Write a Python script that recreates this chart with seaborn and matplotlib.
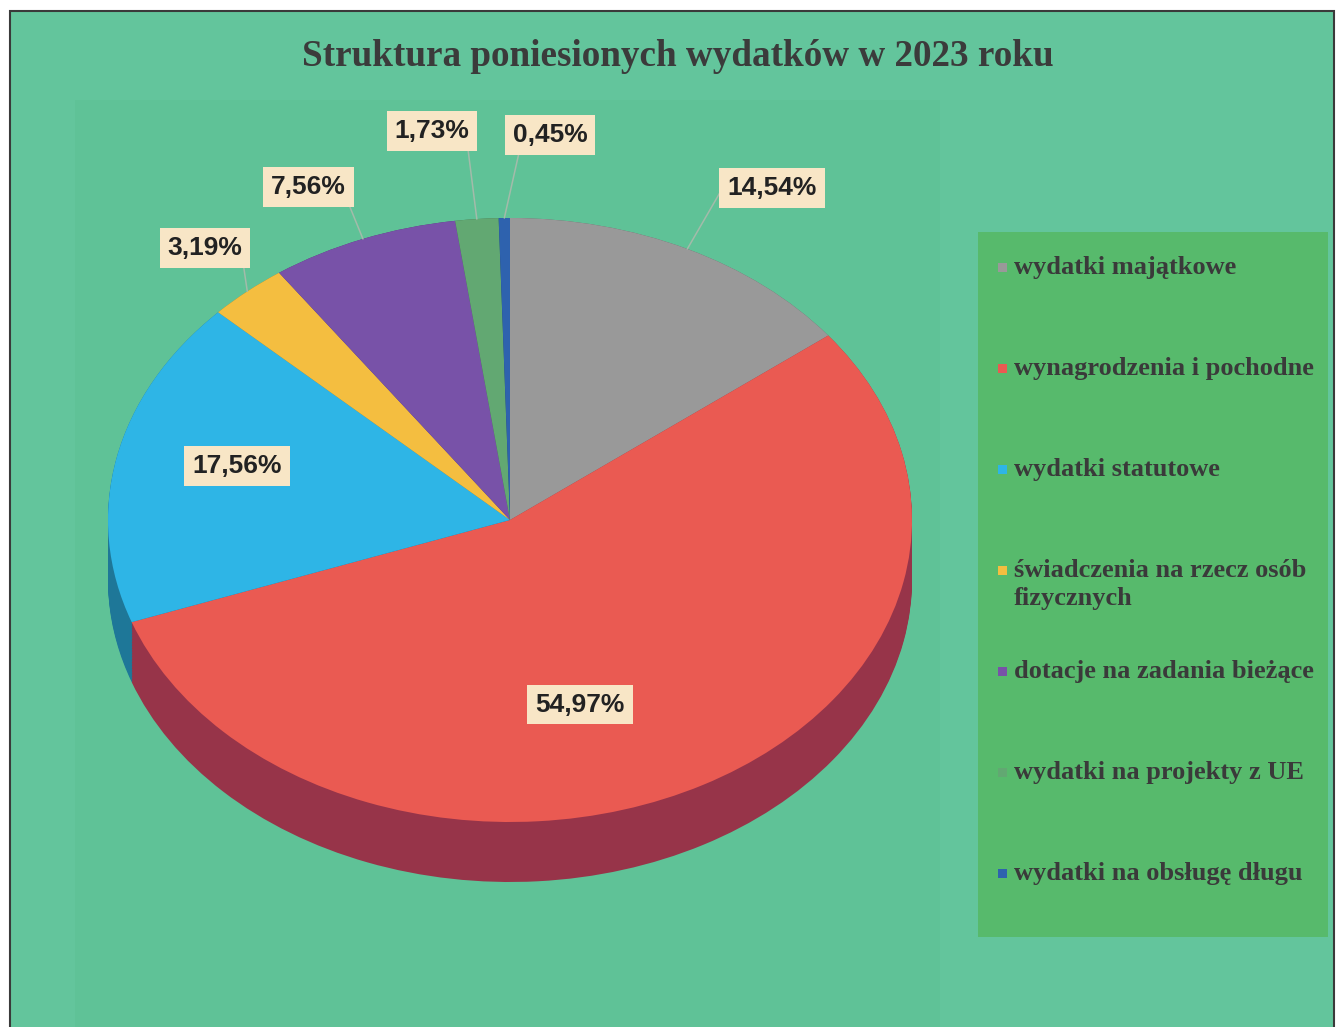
import numpy as np
import matplotlib
matplotlib.use("Agg")
import matplotlib.pyplot as plt
from matplotlib.patches import Rectangle
import seaborn as sns

# === dane ===
categories = [
    "wydatki majątkowe",
    "wynagrodzenia i pochodne",
    "wydatki statutowe",
    "świadczenia na rzecz osób\nfizycznych",
    "dotacje na zadania bieżące",
    "wydatki na projekty z UE",
    "wydatki na obsługę długu",
]
shares = [14.54, 54.97, 17.56, 3.19, 7.56, 1.73, 0.45]
colors = ["#999999", "#EA5A52", "#2EB5E6", "#F4BE40", "#7852A8", "#62A872", "#2E62AE"]

# położenie etykiet (współrzędne osi koła) i punkt startu linii odniesienia (None = brak linii)
label_pos = [(0.652, 1.099), (0.174, -0.611), (-0.679, 0.179), (-0.759, 0.901),
             (-0.502, 1.103), (-0.194, 1.288), (0.100, 1.275)]
line_from = [(0.0, 0.85), None, None, (1.0, 0.1), (1.0, 0.1), (0.97, 0.0), (0.1, 0.0)]

W, H = 1342, 1027
sns.set_theme(style="white")
plt.rcParams["font.family"] = ["Liberation Sans", "DejaVu Sans"]

fig = plt.figure(figsize=(W / 100, H / 100), dpi=100, facecolor="white")


def fx(px):
    return px / W


def fy(py):
    return 1 - py / H


def rect(x0, y0, x1, y1, z=-5, **kw):
    fig.patches.append(Rectangle((fx(x0), fy(y1)), fx(x1) - fx(x0), fy(y0) - fy(y1),
                                 transform=fig.transFigure, figure=fig, zorder=z, **kw))


# tło wykresu
rect(10, 11, 1334, 1030, facecolor="#63C59C", edgecolor="#3a3a3a", lw=1.5, z=-10)
rect(75, 100, 940, 1027, facecolor="#5FC297", edgecolor="none", z=-9)
rect(978, 232, 1328, 937, facecolor="#57BA6C", edgecolor="none", z=-9)

fig.text(fx(678), fy(56), "Struktura poniesionych wydatków w 2023 roku",
         ha="center", va="center", fontsize=26.7, fontweight="bold",
         family=["Liberation Serif", "DejaVu Serif"], color="#3B3B3B")

# === koło (elipsa z bokiem 3D) ===
cx, cy, rx, ry, depth = 510, 520, 402, 302, 60
ax = fig.add_axes([fx(cx - rx), fy(cy + ry + depth), 2 * rx / W, (2 * ry + depth) / H])
ax.set_zorder(1)

side_colors = [tuple(np.array(matplotlib.colors.to_rgb(c)) * 0.66) for c in colors]
side_colors[1] = "#973449"
for d in np.linspace(depth / ry, 0, 40):
    ax.pie(shares, colors=side_colors, startangle=90, counterclock=False,
           center=(0, -d), radius=1, wedgeprops=dict(linewidth=0))
wedges, _ = ax.pie(shares, colors=colors, startangle=90, counterclock=False,
                   center=(0, 0), radius=1, wedgeprops=dict(linewidth=0))
ax.set_xlim(-1, 1)
ax.set_ylim(-1 - depth / ry, 1)
ax.set_aspect("auto")
ax.axis("off")
ax.patch.set_alpha(0)

for w, val, pos, rel in zip(wedges, shares, label_pos, line_from):
    mid = np.deg2rad((w.theta1 + w.theta2) / 2)
    txt = f"{val:.2f}%".replace(".", ",")
    arrow = None
    if rel is not None:
        arrow = dict(arrowstyle="-", color="#A3BBAA", lw=1.1, shrinkA=0, shrinkB=0, relpos=rel)
    ax.annotate(txt, xy=(np.cos(mid), np.sin(mid)), xytext=pos,
                ha="center", va="center", fontsize=19, fontweight="bold", color="#222222",
                bbox=dict(boxstyle="square,pad=0.3", facecolor="#F8E6C6", edgecolor="none"),
                arrowprops=arrow, annotation_clip=False, zorder=5)

# === legenda ===
for i, (name, col) in enumerate(zip(categories, colors)):
    row_y = 267 + 101 * i
    rect(998, row_y - 4, 1007, row_y + 5, z=2, facecolor=col, edgecolor="none")
    fig.text(fx(1014), fy(row_y - 11), name, ha="left", va="top", fontsize=19,
             fontweight="bold", family=["Liberation Serif", "DejaVu Serif"],
             color="#3A3A3A", linespacing=1.3)

fig.savefig("out.png", dpi=100, facecolor="white")
